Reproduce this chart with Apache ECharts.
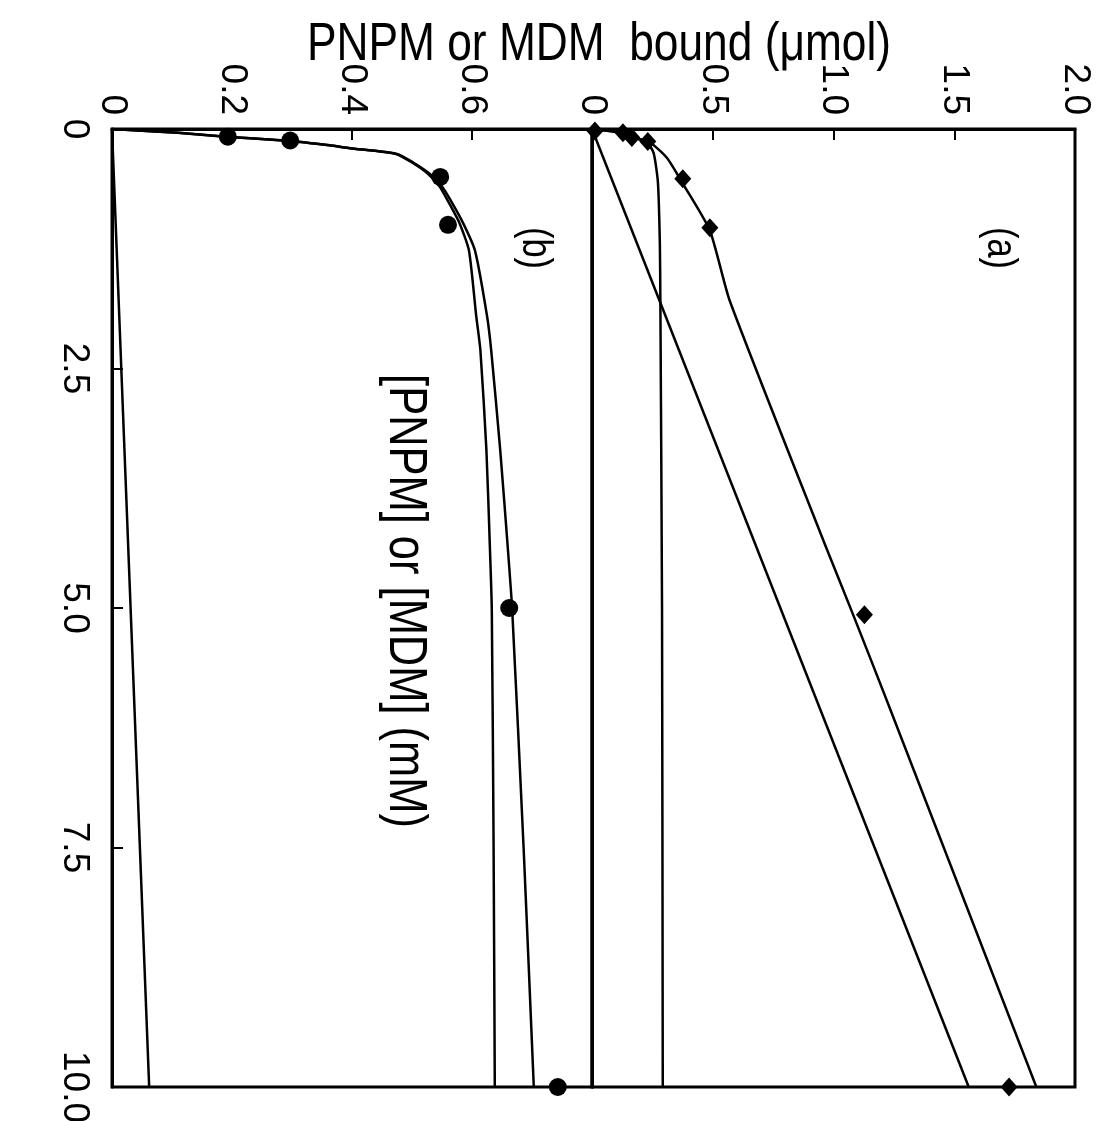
<!DOCTYPE html>
<html>
<head>
<meta charset="utf-8">
<script src="https://cdn.jsdelivr.net/npm/echarts@6/dist/echarts.min.js"></script>
<style>
html, body { margin: 0; padding: 0; background: #ffffff; }
#chart { width: 1105px; height: 1121px; }
</style>
</head>
<body>
<div id="chart"></div>
<script>
// (b) measured points
var concB = [0.08, 0.12, 0.5, 1.0, 5.0, 10.0];
var boundB = [0.193, 0.297, 0.547, 0.56, 0.662, 0.743];
// (b) fitted curves
var curveConcB = [0, 0.04, 0.08, 0.125, 0.17, 0.2, 0.26, 0.35, 0.47, 0.6, 0.73, 0.98, 1.27, 1.95, 2.31, 3.35, 4.4, 5.02, 7.5, 10];
var totalB = [0, 0.11, 0.19, 0.297, 0.363, 0.397, 0.475, 0.502, 0.53, 0.55, 0.563, 0.585, 0.605, 0.625, 0.632, 0.647, 0.66, 0.667, 0.686, 0.703];
var specificB = [0, 0.11, 0.19, 0.296, 0.362, 0.396, 0.473, 0.5, 0.527, 0.546, 0.558, 0.579, 0.595, 0.607, 0.614, 0.624, 0.63, 0.633, 0.636, 0.638];
var lineConcB = [0, 10];
var nonspecB = [0, 0.062];

// (a) measured points
var concA = [0.02, 0.04, 0.09, 0.13, 0.52, 1.03, 5.07, 10.0];
var boundA = [0.012, 0.128, 0.165, 0.231, 0.376, 0.488, 1.128, 1.727];
// (a) fitted curves
var totalConcA = [0, 0.04, 0.09, 0.13, 0.3, 0.57, 1.06, 1.79, 4.34, 5.03, 5.96, 10];
var totalA = [0, 0.128, 0.168, 0.235, 0.31, 0.376, 0.488, 0.57, 0.965, 1.075, 1.22, 1.84];
var specConcA = [0, 0.04, 0.09, 0.13, 0.25, 0.56, 1.2, 1.76, 5, 10];
var specificA = [0, 0.12, 0.16, 0.225, 0.255, 0.273, 0.281, 0.283, 0.29, 0.293];
var lineConcA = [0, 10];
var nonspecA = [0, 1.56];

var FONT = "'Liberation Sans', Arial, sans-serif";
var NARROW = 0.82; // squeeze Liberation Sans to look like the narrow plotter font

function pairs(xs, ys) {
  return xs.map(function (x, i) { return [x, ys[i]]; });
}
function fmt(v) {
  return v === 0 ? '0' : v.toFixed(1);
}

var axisLine = { show: true, lineStyle: { color: '#000', width: 3 } };
var axisTick = { show: true, inside: true, length: 11, lineStyle: { color: '#000', width: 2 } };

function curve(xi, data) {
  return {
    type: 'line',
    xAxisIndex: xi,
    yAxisIndex: xi,
    data: data,
    symbol: 'none',
    smooth: 0.2,
    lineStyle: { color: '#000', width: 2.5 },
    z: 3
  };
}

function label(text, x, y, size, rot) {
  return {
    type: 'text', x: x, y: y, rotation: rot, scaleX: NARROW,
    style: { text: text, fontSize: size, fontFamily: FONT, fill: '#000', align: 'center', verticalAlign: 'middle' }
  };
}

var Chart = echarts.init(document.getElementById('chart'));
Chart.setOption({
  backgroundColor: '#ffffff',
  animation: false,
  grid: [
    { left: 112, top: 129, width: 480, height: 958, outerBoundsMode: 'none', containLabel: false, show: true, borderColor: '#000', borderWidth: 3 },
    { left: 592, top: 129, width: 483, height: 958, outerBoundsMode: 'none', containLabel: false, show: true, borderColor: '#000', borderWidth: 3 }
  ],
  xAxis: [
    {
      gridIndex: 0, type: 'value', position: 'top', min: 0, max: 0.8, interval: 0.2,
      axisLine: axisLine, axisTick: axisTick, splitLine: { show: false },
      axisLabel: {
        rotate: -90, margin: 14, fontSize: 37, fontFamily: FONT, color: '#000',
        formatter: function (v) { return v > 0.75 ? '' : fmt(v); }
      }
    },
    {
      gridIndex: 1, type: 'value', position: 'top', min: 0, max: 2, interval: 0.5,
      axisLine: axisLine, axisTick: axisTick, splitLine: { show: false },
      axisLabel: { rotate: -90, margin: 14, fontSize: 37, fontFamily: FONT, color: '#000', formatter: fmt }
    }
  ],
  yAxis: [
    {
      gridIndex: 0, type: 'value', inverse: true, min: 0, max: 10, interval: 2.5,
      axisLine: axisLine, axisTick: axisTick, splitLine: { show: false },
      axisLabel: { rotate: -90, margin: 19, fontSize: 37, fontFamily: FONT, color: '#000', formatter: fmt }
    },
    {
      gridIndex: 1, type: 'value', inverse: true, min: 0, max: 10, interval: 2.5,
      axisLine: axisLine, axisTick: { show: false }, splitLine: { show: false },
      axisLabel: { show: false }
    }
  ],
  graphic: [
    label('PNPM or MDM  bound (\u03bcmol)', 599, 45, 54, 0),
    label('[PNPM] or [MDM] (mM)', 405, 601, 53, -Math.PI / 2),
    label('(b)', 535, 248, 42, -Math.PI / 2),
    label('(a)', 1000, 248, 42, -Math.PI / 2)
  ],
  series: [
    curve(0, pairs(totalB, curveConcB)),
    curve(0, pairs(specificB, curveConcB)),
    curve(0, pairs(nonspecB, lineConcB)),
    {
      type: 'scatter', xAxisIndex: 0, yAxisIndex: 0,
      data: pairs(boundB, concB),
      symbol: 'circle', symbolSize: 18,
      itemStyle: { color: '#000', opacity: 1 }, z: 5
    },
    curve(1, pairs(totalA, totalConcA)),
    curve(1, pairs(specificA, specConcA)),
    curve(1, pairs(nonspecA, lineConcA)),
    {
      type: 'scatter', xAxisIndex: 1, yAxisIndex: 1,
      data: pairs(boundA, concA),
      symbol: 'diamond', symbolSize: [17, 19],
      itemStyle: { color: '#000', opacity: 1 }, z: 5
    }
  ]
});
</script>
</body>
</html>
